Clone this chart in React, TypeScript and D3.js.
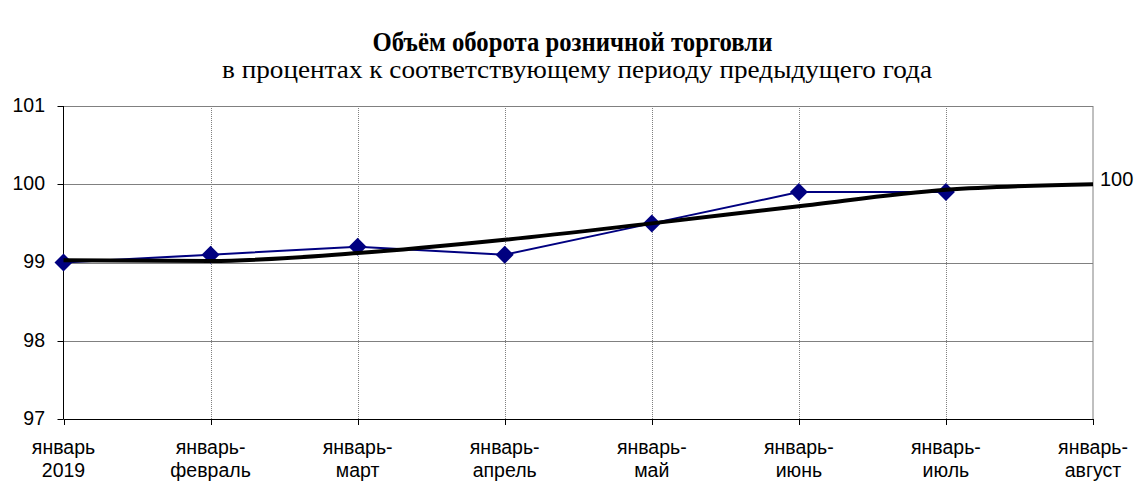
import React from "react";
import { scalePoint, scaleLinear, line, curveMonotoneX } from "d3";

// periods (two-line labels)
const periodsTop = ["январь", "январь-", "январь-", "январь-", "январь-", "январь-", "январь-", "январь-"];
const periodsBottom = ["2019", "февраль", "март", "апрель", "май", "июнь", "июль", "август"];

// monthly values, % to same period of previous year
const turnover = [99.0, 99.1, 99.2, 99.1, 99.5, 99.9, 99.9];
// thick black trend line
const trend = [99.03, 99.02, 99.12, 99.29, 99.5, 99.72, 99.93, 100.0];

const yTicks = [97, 98, 99, 100, 101];

const W = 1140;
const H = 481;
const left = 63.5;
const right = 1093;
const top = 106;
const bottom = 419;

const sans = "'Liberation Sans', Arial, sans-serif";
const serif = "'Liberation Serif', 'Times New Roman', serif";

const App = () => {
  const x = scalePoint<number>()
    .domain(periodsTop.map((_, i) => i))
    .range([left, right]);
  const y = scaleLinear().domain([97, 101]).range([bottom, top]);

  const blueLine = line<number>()
    .x((_, i) => x(i) as number)
    .y((d) => y(d));

  const blackLine = line<number>()
    .x((_, i) => x(i) as number)
    .y((d) => y(d))
    .curve(curveMonotoneX);

  const last = trend[trend.length - 1];

  return (
    <svg width={W} height={H} style={{ position: "absolute", left: 0, top: 0, background: "#fff" }}>
      <rect width={W} height={H} fill="#fff" />
      {/* titles */}
      <text
        x={572.5}
        y={51}
        textAnchor="middle"
        fontFamily={serif}
        fontWeight="bold"
        fontSize={28}
        textLength={400}
        lengthAdjust="spacingAndGlyphs"
      >
        Объём оборота розничной торговли
      </text>
      <text
        x={577}
        y={78}
        textAnchor="middle"
        fontFamily={serif}
        fontSize={26}
        textLength={710}
        lengthAdjust="spacingAndGlyphs"
      >
        в процентах к соответствующему периоду предыдущего года
      </text>

      {/* vertical dotted grid */}
      {periodsTop.map((_, i) =>
        i === 0 || i === periodsTop.length - 1 ? null : (
          <line
            key={"vg" + i}
            x1={Math.round(x(i) as number) + 0.5}
            x2={Math.round(x(i) as number) + 0.5}
            y1={top}
            y2={bottom}
            stroke="#808080"
            strokeWidth={1}
            strokeDasharray="1,1"
          />
        )
      )}

      {/* horizontal grid */}
      {yTicks.map((t) => (
        <line
          key={"hg" + t}
          x1={left}
          x2={right}
          y1={Math.round(y(t)) + 0.5}
          y2={Math.round(y(t)) + 0.5}
          stroke={t === 97 ? "#000" : "#808080"}
          strokeWidth={1}
        />
      ))}

      {/* frame */}
      <line x1={right} x2={right} y1={top} y2={bottom} stroke="#808080" strokeWidth={1} />
      <line x1={left} x2={left} y1={top} y2={bottom} stroke="#000" strokeWidth={1} />

      {/* y ticks */}
      {yTicks.map((t) => (
        <g key={"yt" + t}>
          <line
            x1={left - 6}
            x2={left}
            y1={Math.round(y(t)) + 0.5}
            y2={Math.round(y(t)) + 0.5}
            stroke="#000"
          />
          <text x={45} y={y(t) - 1} dy="0.35em" textAnchor="end" fontFamily={sans} fontSize={19.5}>
            {t}
          </text>
        </g>
      ))}

      {/* x ticks and labels */}
      {periodsTop.map((p, i) => (
        <g key={"xt" + i}>
          <line
            x1={Math.round(x(i) as number) + 0.5}
            x2={Math.round(x(i) as number) + 0.5}
            y1={bottom}
            y2={bottom + 6}
            stroke="#000"
          />
          <text x={x(i) as number} y={454} textAnchor="middle" fontFamily={sans} fontSize={19.5}>
            {p}
          </text>
          <text x={x(i) as number} y={477} textAnchor="middle" fontFamily={sans} fontSize={19.5}>
            {periodsBottom[i]}
          </text>
        </g>
      ))}

      {/* blue series */}
      <path d={blueLine(turnover) || ""} fill="none" stroke="#000080" strokeWidth={2} />
      {turnover.map((v, i) => {
        const cx = x(i) as number;
        const cy = y(v);
        const r = 9;
        return (
          <path
            key={"pt" + i}
            d={`M${cx},${cy - r}L${cx + r},${cy}L${cx},${cy + r}L${cx - r},${cy}Z`}
            fill="#000080"
          />
        );
      })}

      {/* black trend */}
      <path d={blackLine(trend) || ""} fill="none" stroke="#000" strokeWidth={4} />

      <text x={right + 7} y={y(last) - 5} dy="0.35em" fontFamily={sans} fontSize={20}>
        {last}
      </text>
    </svg>
  );
};

export default App;
